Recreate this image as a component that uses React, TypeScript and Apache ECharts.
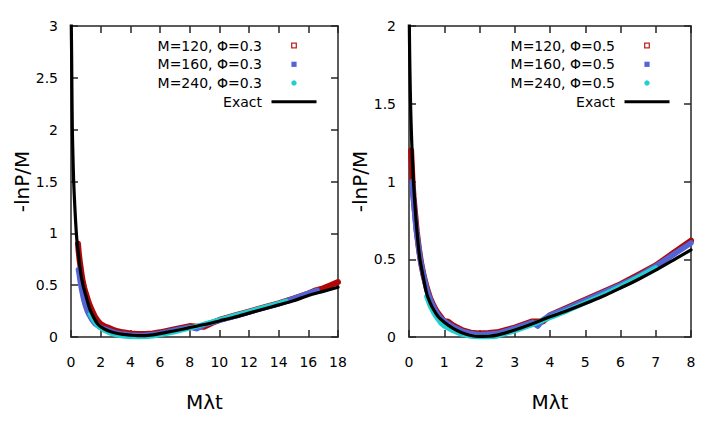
import React, { useEffect, useRef } from "react";
import * as echarts from "echarts";

// ---------- labels ----------
const legendLeft = ["M=120, Φ=0.3", "M=160, Φ=0.3", "M=240, Φ=0.3", "Exact"];
const legendRight = ["M=120, Φ=0.5", "M=160, Φ=0.5", "M=240, Φ=0.5", "Exact"];
const xTitle = "Mλt";
const yTitle = "-lnP/M";

// ---------- axis ranges ----------
const xLeft = { min: 0, max: 18, interval: 2 };
const yLeft = { min: 0, max: 3, interval: 0.5 };
const xRight = { min: 0, max: 8, interval: 1 };
const yRight = { min: 0, max: 2, interval: 0.5 };

// ---------- left panel (Φ=0.3) ----------
const exactLeft: [number, number][] = [
  [0.0, 3.3], [0.02, 3.0], [0.04, 2.75], [0.06, 2.4], [0.09, 2.0], [0.13, 1.75], [0.18, 1.5],
  [0.26, 1.25], [0.36, 1.0], [0.45, 0.86], [0.54, 0.75], [0.65, 0.62], [0.81, 0.5],
  [1.0, 0.4], [1.2, 0.3], [1.37, 0.235], [1.6, 0.17], [1.8, 0.125], [2.04, 0.095],
  [2.5, 0.06], [3.05, 0.036], [3.5, 0.025], [4.0, 0.018], [4.5, 0.013], [5.0, 0.013],
  [5.5, 0.02], [6.0, 0.033], [7.0, 0.06], [8.0, 0.09], [9.0, 0.12], [10, 0.155],
  [11, 0.19], [12, 0.23], [13, 0.27], [14, 0.31], [15, 0.35], [16, 0.4], [17, 0.44], [18, 0.48],
];
const m120Left: [number, number][] = [
  [0.47, 0.9], [0.52, 0.82], [0.58, 0.74], [0.65, 0.67], [0.72, 0.6], [0.8, 0.53],
  [0.9, 0.47], [1.0, 0.42], [1.2, 0.33], [1.4, 0.26], [1.6, 0.2], [1.8, 0.155],
  [2.0, 0.125], [2.3, 0.1], [2.6, 0.085], [3.0, 0.06], [3.5, 0.045], [4.0, 0.035],
  [4.5, 0.03], [5.0, 0.03], [5.5, 0.035], [6.0, 0.045], [7.0, 0.075], [8.0, 0.105],
  [8.5, 0.1], [9.0, 0.1], [9.5, 0.135], [10, 0.165], [11, 0.205], [12, 0.245],
  [13, 0.285], [14, 0.325], [15, 0.37], [16, 0.42], [16.5, 0.45], [17, 0.47], [17.5, 0.5], [18, 0.53],
];
const m160Left: [number, number][] = [
  [0.5, 0.65], [0.56, 0.6], [0.63, 0.53], [0.7, 0.47], [0.8, 0.4], [0.9, 0.34],
  [1.0, 0.29], [1.1, 0.25], [1.2, 0.22], [1.4, 0.17], [1.6, 0.13], [1.8, 0.11],
  [1.9, 0.1], [2.2, 0.08], [2.6, 0.06], [3.0, 0.04], [3.5, 0.028], [4.0, 0.02],
  [4.5, 0.015], [5.0, 0.018], [5.5, 0.025], [6.0, 0.035], [7.0, 0.065], [8.0, 0.095],
  [8.5, 0.08], [9.0, 0.12], [10, 0.16], [11, 0.2], [12, 0.24], [13, 0.28],
  [14, 0.32], [15, 0.37], [16, 0.42], [16.6, 0.45],
];
const m240Left: [number, number][] = [
  [1.3, 0.22], [1.45, 0.18], [1.6, 0.145], [1.8, 0.11], [2.0, 0.085], [2.3, 0.06],
  [2.6, 0.04], [3.0, 0.022], [3.5, 0.01], [4.0, 0.003], [4.5, 0.0], [5.0, 0.002],
  [5.5, 0.01], [6.0, 0.022], [6.5, 0.035], [7.0, 0.05], [8.0, 0.085], [9.0, 0.125],
  [10, 0.165], [11, 0.205], [12, 0.245], [13, 0.285], [14, 0.325], [14.5, 0.345],
];

// ---------- right panel (Φ=0.5) ----------
const exactRight: [number, number][] = [
  [0.0, 2.3], [0.01, 2.0], [0.02, 1.8], [0.035, 1.6], [0.05, 1.45], [0.07, 1.3], [0.1, 1.12],
  [0.125, 1.0], [0.16, 0.88], [0.2, 0.75], [0.25, 0.62], [0.31, 0.5], [0.4, 0.39],
  [0.5, 0.28], [0.6, 0.22], [0.7, 0.175], [0.83, 0.13], [1.0, 0.095], [1.25, 0.055],
  [1.5, 0.027], [1.75, 0.01], [2.0, 0.004], [2.25, 0.005], [2.5, 0.012], [3.0, 0.045],
  [3.5, 0.085], [4.0, 0.13], [4.5, 0.17], [5.0, 0.215], [5.5, 0.262], [6.0, 0.315],
  [6.5, 0.37], [7.0, 0.43], [7.5, 0.495], [8.0, 0.56],
];
const m120Right: [number, number][] = [
  [0.06, 1.2], [0.08, 1.1], [0.1, 1.0], [0.13, 0.9], [0.17, 0.8], [0.22, 0.68],
  [0.28, 0.57], [0.34, 0.48], [0.42, 0.39], [0.5, 0.32], [0.6, 0.25], [0.7, 0.2],
  [0.8, 0.16], [0.9, 0.13], [1.0, 0.1], [1.1, 0.1], [1.25, 0.075], [1.5, 0.045],
  [1.75, 0.028], [2.0, 0.022], [2.25, 0.025], [2.5, 0.03], [3.0, 0.06], [3.5, 0.1],
  [3.8, 0.1], [4.0, 0.14], [4.5, 0.19], [5.0, 0.24], [5.5, 0.29], [6.0, 0.34],
  [6.5, 0.4], [7.0, 0.46], [7.5, 0.54], [8.0, 0.62],
];
const m160Right: [number, number][] = [
  [0.09, 1.0], [0.12, 0.9], [0.16, 0.8], [0.2, 0.7], [0.26, 0.6], [0.32, 0.5],
  [0.4, 0.41], [0.5, 0.31], [0.6, 0.24], [0.7, 0.19], [0.8, 0.15], [0.9, 0.12],
  [1.0, 0.1], [1.25, 0.065], [1.5, 0.038], [1.75, 0.022], [2.0, 0.015], [2.5, 0.022],
  [3.0, 0.055], [3.5, 0.095], [3.65, 0.07], [3.8, 0.11], [4.0, 0.14], [4.5, 0.185],
  [5.0, 0.235], [5.5, 0.285], [6.0, 0.335], [6.5, 0.39], [7.0, 0.455], [7.5, 0.53], [8.0, 0.605],
];
const m240Right: [number, number][] = [
  [0.5, 0.26], [0.6, 0.2], [0.7, 0.155], [0.8, 0.12], [0.9, 0.09], [1.0, 0.07],
  [1.25, 0.04], [1.5, 0.017], [1.75, 0.004], [2.0, 0.0], [2.25, 0.0], [2.5, 0.005],
  [3.0, 0.04], [3.5, 0.08], [4.0, 0.125], [4.5, 0.17], [5.0, 0.22], [5.5, 0.27],
  [6.0, 0.325], [6.5, 0.385], [7.0, 0.445],
];

// ---------- colours ----------
const RED = "#b00808";
const RED_MARK = "#c02828";
const BLUE = "#5264d6";
const CYAN = "#22cfcf";
const BLACK = "#000000";
const AXIS = "#262626";
const FONT = '"DejaVu Sans", Verdana, sans-serif';

const GRIDS = [
  { left: 71, top: 26, width: 267, height: 311 },
  { left: 409, top: 26, width: 282, height: 311 },
];

function axisBase() {
  return {
    type: "value" as const,
    axisLine: { show: true, onZero: false, lineStyle: { color: AXIS, width: 1.5 } },
    axisTick: { show: true, inside: true, length: 7, lineStyle: { color: AXIS, width: 1.5 } },
    splitLine: { show: false },
  };
}

function legendGraphics(labels: string[], gridIdx: number) {
  const g = GRIDS[gridIdx];
  const right = g.left + g.width;
  const rows = [45.5, 64.3, 83, 101.7];
  const textX = right - 76;
  const symX = right - 44;
  const els: any[] = [];
  labels.forEach((t, i) => {
    els.push({
      type: "text",
      x: textX,
      y: rows[i],
      style: {
        text: t,
        fill: "#000",
        font: `14px ${FONT}`,
        textAlign: "right",
        textVerticalAlign: "middle",
        align: "right",
        verticalAlign: "middle",
      },
    });
  });
  els.push({
    type: "rect",
    x: symX,
    y: rows[0],
    shape: { x: -2.3, y: -2.3, width: 4.6, height: 4.6 },
    style: { fill: "#fff", stroke: RED_MARK, lineWidth: 1.3 },
  });
  els.push({
    type: "rect",
    x: symX,
    y: rows[1],
    shape: { x: -2.6, y: -2.6, width: 5.2, height: 5.2 },
    style: { fill: BLUE },
  });
  els.push({
    type: "circle",
    x: symX,
    y: rows[2],
    shape: { cx: 0, cy: 0, r: 2.7 },
    style: { fill: CYAN },
  });
  els.push({
    type: "line",
    shape: { x1: right - 66.5, y1: rows[3], x2: right - 21.5, y2: rows[3] },
    style: { stroke: BLACK, lineWidth: 3 },
  });
  return els;
}

function band(data: [number, number][], color: string, width: number, gi: number) {
  return {
    type: "line" as const,
    xAxisIndex: gi * 2,
    yAxisIndex: gi * 2,
    data,
    symbol: "none",
    showSymbol: false,
    silent: true,
    clip: true,
    lineStyle: { color, width, join: "round", cap: "round" },
    emphasis: { disabled: true },
  };
}

export default function App() {
  const ref = useRef<HTMLDivElement>(null);
  useEffect(() => {
    if (!ref.current) return;
    const chart = echarts.init(ref.current, undefined, { renderer: "svg" });
    const labelStyle = { color: "#000", fontSize: 14, fontFamily: FONT };
    const nameStyle = { color: "#000", fontSize: 20, fontFamily: FONT };
    const xs = [xLeft, xRight];
    const ys = [yLeft, yRight];
    const xAxis: any[] = [];
    const yAxis: any[] = [];
    [0, 1].forEach((gi) => {
      xAxis.push({
        ...axisBase(),
        gridIndex: gi,
        position: "bottom",
        ...xs[gi],
        axisLabel: { ...labelStyle, margin: 18 },
        name: xTitle,
        nameLocation: "middle",
        nameGap: 55,
        nameTextStyle: nameStyle,
      });
      xAxis.push({
        ...axisBase(),
        gridIndex: gi,
        position: "top",
        ...xs[gi],
        axisLabel: { show: false },
      });
      yAxis.push({
        ...axisBase(),
        gridIndex: gi,
        position: "left",
        ...ys[gi],
        axisLabel: { ...labelStyle, margin: 13 },
        name: yTitle,
        nameLocation: "middle",
        nameGap: gi === 0 ? 36 : 39,
        nameTextStyle: nameStyle,
      });
      yAxis.push({
        ...axisBase(),
        gridIndex: gi,
        position: "right",
        ...ys[gi],
        axisLabel: { show: false },
      });
    });

    chart.setOption({
      animation: false,
      backgroundColor: "#fff",
      textStyle: { fontFamily: FONT },
      grid: GRIDS.map((g) => ({ ...g, containLabel: false })),
      xAxis,
      yAxis,
      series: [
        band(m120Left, RED, 6, 0),
        band(m160Left, BLUE, 5.5, 0),
        band(m240Left, CYAN, 5, 0),
        { ...band(exactLeft, BLACK, 3.2, 0), smooth: 0.25 },
        band(m120Right, RED, 6, 1),
        band(m160Right, BLUE, 5.5, 1),
        band(m240Right, CYAN, 5, 1),
        { ...band(exactRight, BLACK, 3.2, 1), smooth: 0.25 },
      ],
      graphic: [...legendGraphics(legendLeft, 0), ...legendGraphics(legendRight, 1)],
    });
    return () => chart.dispose();
  }, []);
  return (
    <div
      ref={ref}
      style={{ position: "absolute", left: 0, top: 0, width: 706, height: 424, background: "#fff" }}
    />
  );
}
